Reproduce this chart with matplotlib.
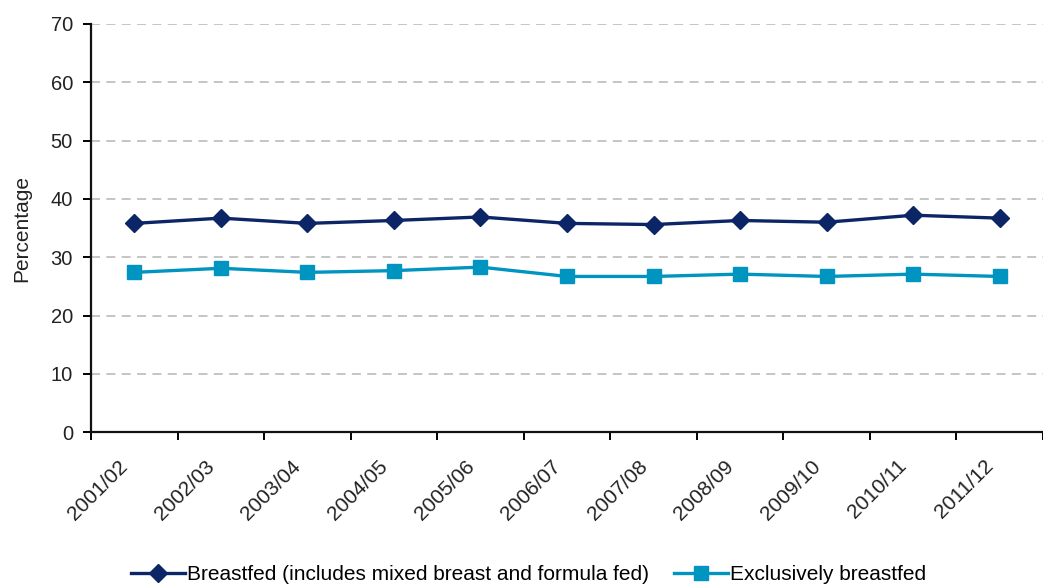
import matplotlib
matplotlib.use("Agg")
import matplotlib.pyplot as plt
import matplotlib.transforms as mtransforms
import numpy as np

years = ["2001/02", "2002/03", "2003/04", "2004/05", "2005/06", "2006/07",
         "2007/08", "2008/09", "2009/10", "2010/11", "2011/12"]
breastfed = [35.8, 36.7, 35.8, 36.3, 36.9, 35.8, 35.6, 36.3, 36.0, 37.2, 36.7]
exclusive = [27.4, 28.1, 27.4, 27.7, 28.3, 26.7, 26.7, 27.1, 26.7, 27.1, 26.7]
yticks = [0, 10, 20, 30, 40, 50, 60, 70]

plt.rcParams['font.family'] = ['Liberation Sans', 'DejaVu Sans']

fig = plt.figure(figsize=(10.43, 5.84), dpi=100)
ax = fig.add_axes([0.0873, 0.260, 0.9127, 0.699])

x = np.arange(len(years))
ax.plot(x, breastfed, color='#0b2567', marker='D', markersize=9, lw=2.4,
        label='Breastfed (includes mixed breast and formula fed)')
ax.plot(x, exclusive, color='#0095c0', marker='s', markersize=10, lw=2.4,
        label='Exclusively breastfed')

ax.set_xlim(-0.5, len(years) - 0.5)
ax.set_ylim(0, 70)
ax.set_yticks(yticks)
ax.set_yticklabels([str(v) for v in yticks], fontsize=14.5, color='#222222')
ax.yaxis.grid(True, color='#c0c0c0', linestyle=(0, (5, 3.5)), lw=1.3)
ax.set_axisbelow(True)

ax.set_xticks(np.arange(-0.5, len(years) + 0.5, 1), minor=True)
ax.tick_params(axis='x', which='major', length=0, pad=17.5)
ax.tick_params(axis='x', which='minor', length=6, width=1.4, direction='out')
ax.tick_params(axis='y', length=6, width=1.4, direction='out', pad=7)
ax.set_xticks(x)
ax.set_xticklabels(years, rotation=45, ha='right', rotation_mode='anchor',
                   fontsize=15, color='#222222')
offset = mtransforms.ScaledTranslation(-16 / 100, 0, fig.dpi_scale_trans)
for lab in ax.get_xticklabels():
    lab.set_transform(lab.get_transform() + offset)

for s in ['top', 'right']:
    ax.spines[s].set_visible(False)
for s in ['left', 'bottom']:
    ax.spines[s].set_linewidth(1.6)
    ax.spines[s].set_color('#111111')

ax.set_ylabel('Percentage', fontsize=15, color='#222222')
ax.yaxis.set_label_coords(-0.063, 0.5)

fig.legend(loc='lower center', bbox_to_anchor=(0.507, -0.032), ncol=2, frameon=False,
           fontsize=15, handlelength=2.6, columnspacing=1.2, handletextpad=0.1)

fig.savefig('out.png', dpi=100)
